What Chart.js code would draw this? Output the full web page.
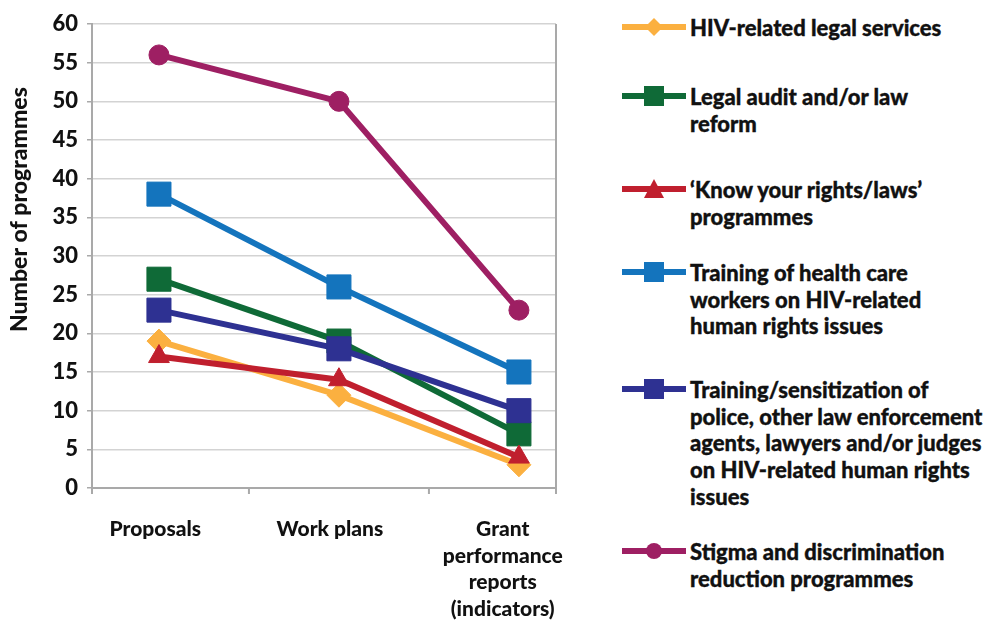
<!DOCTYPE html>
<html lang="en">
  <head>
    <meta charset="UTF-8" />
    <title>Human rights programmes in Global Fund documents</title>
    <script src="https://cdn.jsdelivr.net/npm/chart.js@4.4.1/dist/chart.umd.min.js"></script>
    <style>
      body {
        margin: 0;
        background: #ffffff;
        font-family: Lato, "Open Sans", sans-serif;
      }
      #wrap {
        position: relative;
        width: 998px;
        height: 625px;
      }
      #chart {
        position: absolute;
        left: 0;
        top: 0;
      }
      .item {
        position: absolute;
        left: 622px;
      }
      .item svg {
        position: absolute;
        left: 0;
        top: 0;
      }
      .item span {
        position: absolute;
        left: 68px;
        top: 0;
        width: 320px;
        font-weight: 900;
        font-size: 22px;
        line-height: 26.7px;
        color: #111;
        -webkit-text-stroke: 0.35px #111;
        white-space: nowrap;
      }
    </style>
  </head>
  <body>
    <div id="wrap">
      <canvas id="chart" width="590" height="625"></canvas>
      <div id="legend"></div>
    </div>

    <script>
      // categories (x axis)
      const categories = [
        ["Proposals"],
        ["Work plans"],
        ["Grant", "performance", "reports", "(indicators)"],
      ];

      // series
      const legalServices = [19, 12, 3];
      const legalAudit = [27, 19, 7];
      const knowRights = [17, 14, 4];
      const healthWorkers = [38, 26, 15];
      const policeTraining = [23, 18, 10];
      const stigmaReduction = [56, 50, 23];

      const seriesNames = [
        ["HIV-related legal services"],
        ["Legal audit and/or law", "reform"],
        ["\u2018Know your rights/laws\u2019", "programmes"],
        ["Training of health care", "workers on HIV-related", "human rights issues"],
        [
          "Training/sensitization of",
          "police, other law enforcement",
          "agents, lawyers and/or judges",
          "on HIV-related human rights",
          "issues",
        ],
        ["Stigma and discrimination", "reduction programmes"],
      ];

      const yTickValues = [0, 5, 10, 15, 20, 25, 30, 35, 40, 45, 50, 55, 60];

      const colors = ["#fbb040", "#0f6a37", "#c01f2e", "#1474bd", "#2e3192", "#9e1f63"];
      const shapes = ["rectRot", "rect", "triangle", "rect", "rect", "circle"];
      const radii = [12, 17, 12, 17, 17, 10];
      const allSeries = [legalServices, legalAudit, knowRights, healthWorkers, policeTraining, stigmaReduction];

      const datasets = allSeries.map((vals, i) => ({
        label: seriesNames[i].join(" "),
        data: vals.map((v, j) => ({ x: j, y: v })),
        borderColor: colors[i],
        backgroundColor: colors[i],
        borderWidth: 6,
        tension: 0,
        pointStyle: shapes[i],
        pointRadius: radii[i],
        pointBackgroundColor: colors[i],
        pointBorderColor: colors[i],
        pointBorderWidth: 1,
        order: 6 - i, // later series drawn on top, like the original
      }));

      // frame: right border and category tick marks, plus the y title
      const framePlugin = {
        id: "frame",
        beforeDatasetsDraw(chart) {
          const { ctx, chartArea } = chart;
          const x = chart.scales.x;
          ctx.save();
          ctx.strokeStyle = "#a9a9a9";
          ctx.lineWidth = 2;
          ctx.beginPath();
          ctx.moveTo(chartArea.right, chartArea.top);
          ctx.lineTo(chartArea.right, chartArea.bottom + 6);
          [x.min, 0.5, 1.5].forEach((v) => {
            const px = x.getPixelForValue(v);
            ctx.moveTo(px, chartArea.bottom);
            ctx.lineTo(px, chartArea.bottom + 6);
          });
          ctx.stroke();
          ctx.restore();
        },
        afterDraw(chart) {
          const { ctx, chartArea } = chart;
          ctx.save();
          ctx.translate(20, chartArea.top + (chartArea.bottom - chartArea.top) * 0.4);
          ctx.rotate(-Math.PI / 2);
          ctx.font = "900 23px Lato";
          ctx.fillStyle = "#111";
          ctx.textAlign = "center";
          ctx.textBaseline = "middle";
          ctx.fillText("Number of programmes", 0, 0);
          ctx.restore();
        },
      };

      new Chart(document.getElementById("chart"), {
        type: "line",
        data: { datasets: datasets },
        plugins: [framePlugin],
        options: {
          responsive: false,
          animation: false,
          devicePixelRatio: 1,
          layout: { padding: { top: 24, right: 34, left: 0, bottom: 0 } },
          plugins: { legend: { display: false }, tooltip: { enabled: false } },
          scales: {
            x: {
              type: "linear",
              min: -0.372,
              max: 2.206,
              afterBuildTicks: (s) => {
                s.ticks = [{ value: -0.02 }, { value: 0.95 }, { value: 1.91 }];
              },
              afterFit: (s) => {
                s.height = 137;
              },
              grid: { display: false },
              border: { display: true, color: "#a9a9a9", width: 2 },
              ticks: {
                autoSkip: false,
                maxRotation: 0,
                padding: 20,
                color: "#111",
                font: { family: "Lato", size: 21, weight: "900", lineHeight: 1.27 },
                callback: (v, i) => categories[i],
              },
            },
            y: {
              min: 0,
              max: 60,
              afterBuildTicks: (s) => {
                s.ticks = yTickValues.map((v) => ({ value: v }));
              },
              afterFit: (s) => {
                s.width = 92;
              },
              grid: { color: "#d3d3d3", lineWidth: 1.5, tickLength: 5, tickColor: "#a9a9a9" },
              border: { color: "#a9a9a9", width: 2 },
              ticks: {
                padding: 9,
                color: "#111",
                font: { family: "Lato", size: 22, weight: "900" },
              },
            },
          },
        },
      });

      // legend as html, so the long names can wrap
      const legendTops = [28, 97, 190, 273, 390, 552];
      const legend = document.getElementById("legend");
      seriesNames.forEach((lines, i) => {
        const c = colors[i];
        let mark = "";
        if (shapes[i] === "rect") mark = `<rect x="22" y="1" width="20" height="20" fill="${c}"/>`;
        if (shapes[i] === "rectRot") mark = `<polygon points="32,2 41,11 32,20 23,11" fill="${c}"/>`;
        if (shapes[i] === "triangle") mark = `<polygon points="32,1 42,20 22,20" fill="${c}"/>`;
        if (shapes[i] === "circle") mark = `<circle cx="32" cy="11" r="8" fill="${c}"/>`;
        const div = document.createElement("div");
        div.className = "item";
        div.style.top = legendTops[i] - 13 + "px";
        div.innerHTML =
          `<svg width="64" height="22" style="top:1px"><line x1="0" y1="11" x2="64" y2="11" stroke="${c}" stroke-width="6"/>${mark}</svg>` +
          `<span>${lines.join("<br>")}</span>`;
        legend.appendChild(div);
      });
    </script>
  </body>
</html>
